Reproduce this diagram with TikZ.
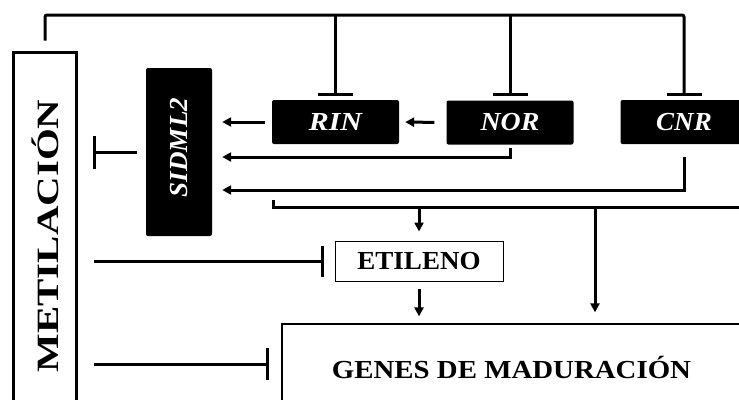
\documentclass[tikz,border=0pt]{standalone}
\usepackage{fontspec}
\setmainfont{Liberation Serif}
\usetikzlibrary{arrows.meta,calc}

\begin{document}
\begin{tikzpicture}[x=1pt,y=-1pt,
  conn/.style={line width=3pt},
  act/.style={conn,-{Triangle[length=9pt,width=9pt]}},
  inh/.style={conn,-{Bar[width=#1,line width=3pt]}},
  inh/.default=35pt,
  gene/.style={fill=black, rounded corners=2pt, minimum width=127pt,
    minimum height=44pt, text=white, inner sep=0pt,
    font=\fontsize{26}{26}\selectfont\bfseries\itshape},
  plain/.style={draw, inner sep=0pt, font=\fontsize{26}{26}\selectfont\bfseries},
]
\useasboundingbox (0,0) rectangle (739,399);
\clip (0,0) rectangle (739,399);

% methylation column
\node[draw, line width=3pt, minimum width=63pt, minimum height=368pt, inner sep=0pt,
      font=\fontsize{31}{31}\selectfont\bfseries] (met) at (45,236)
  {\rotatebox{90}{\scalebox{1.32}[1]{METILACIÓN}}};

% transcription factors
\node[gene] (rin) at (335.5,122) {\scalebox{1.15}[1]{RIN}};
\node[gene] (nor) at (510,122.5) {\scalebox{1.07}[1]{NOR}};
\node[gene] (cnr) at (684,122) {\scalebox{1.04}[1]{CNR}};
\node[gene, minimum width=66pt, minimum height=168pt] (sid) at (179,152)
  {\rotatebox{90}{\hspace{9pt}\scalebox{1.04}[1]{SIDML2}}};

% ethylene and ripening genes
\node[plain, line width=1pt, minimum width=168pt, minimum height=40pt] (eti) at (419,261)
  {\scalebox{1.04}[1]{ETILENO}};
\node[plain, line width=1.3pt, minimum width=459pt, minimum height=86pt] (gen) at (511.5,367)
  {\scalebox{1.11}[1]{GENES DE MADURACIÓN}};

% methylation represses RIN, NOR and CNR
\coordinate (top) at (45,15);
\draw[inh, rounded corners=2pt, shorten <=10pt, shorten >=4pt]
  (met.north) |- (cnr.north |- top) -- (cnr.north);
\draw[inh, shorten >=4pt] (rin.north |- top) -- (rin.north);
\draw[inh, shorten >=4pt] (nor.north |- top) -- (nor.north);

% activation of SlDML2
\draw[act, shorten <=12pt, shorten >=6pt] (nor.west) -- (rin.east);
\draw[act, shorten <=7pt, shorten >=10pt] (rin.west) -- (sid.east |- rin.west);
\draw[act, shorten <=3pt, shorten >=10pt] (nor.south) |- ([yshift=-5pt]sid.east);
\draw[act, shorten <=13pt, shorten >=10pt] (cnr.south) |- ([yshift=-38pt]sid.east);

% SlDML2 represses methylation
\draw[inh=33pt, shorten <=9pt, shorten >=15pt] (sid.west) -- (met.east |- sid.west);

% common output line to ethylene and ripening genes
\coordinate (bus0) at (273,200);
\coordinate (busR) at (745,207);
\coordinate (b2) at (595,207);
\draw[conn] (bus0) |- (busR);
\draw[act, shorten >=9pt] (eti.north |- busR) -- (eti.north);
\draw[act, shorten >=11pt] (b2) -- (b2 |- gen.north);
\draw[act, shorten <=7pt, shorten >=7pt] (eti.south) -- (eti.south |- gen.north);

% methylation represses ethylene and ripening genes
\coordinate (g) at ([yshift=3pt]gen.west);
\draw[inh=31pt, shorten <=16pt, shorten >=10.5pt] (met.east |- eti.west) -- (eti.west);
\draw[inh=32pt, shorten <=16pt, shorten >=12.5pt] (met.east |- g) -- (g);
\end{tikzpicture}
\end{document}
